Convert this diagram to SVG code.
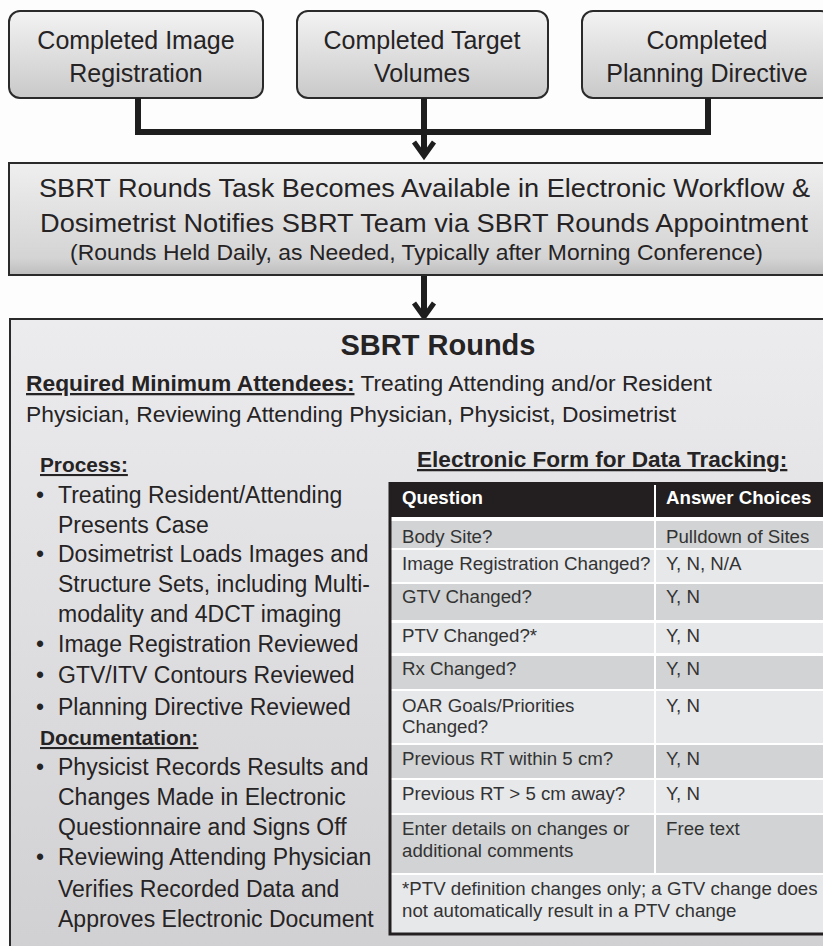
<svg xmlns="http://www.w3.org/2000/svg" width="823" height="946" viewBox="0 0 823 946">
<defs>
<linearGradient id="gTop" x1="0" y1="0" x2="0" y2="1"><stop offset="0" stop-color="#f3f3f3"/><stop offset="1" stop-color="#c9c9ca"/></linearGradient>
<linearGradient id="gMid" x1="0" y1="0" x2="0" y2="1"><stop offset="0" stop-color="#efeff0"/><stop offset="0.85" stop-color="#d4d4d5"/><stop offset="1" stop-color="#bdbdbe"/></linearGradient>
<linearGradient id="gBig" x1="0" y1="0" x2="0" y2="1"><stop offset="0" stop-color="#ececee"/><stop offset="1" stop-color="#d0d0d2"/></linearGradient>
<style>
text{font-family:"Liberation Sans",Arial,sans-serif;fill:#262324}
.box{stroke:#2a2a2a;stroke-width:2}
.t25{font-size:25px}
.t26{font-size:26px}
.b{font-weight:bold}
.u{text-decoration:underline}
.li{font-size:23px}
.td{font-size:18.7px;fill:#333}
.th{font-size:18.7px;font-weight:bold;fill:#fff}
.dk{fill:#d2d3d5}
.lt{fill:#e7e8ea}
.conn{fill:none;stroke:#1e1e1e;stroke-width:6}
.head{fill:none;stroke:#1e1e1e;stroke-width:5;stroke-linejoin:miter}
</style>
</defs>
<rect width="823" height="946" fill="#fdfdfd"/>

<g id="node-image-registration">
<rect class="box" x="9" y="11" width="254" height="87" rx="11" fill="url(#gTop)"/>
<text class="t25" x="136" y="49" text-anchor="middle">Completed Image</text>
<text class="t25" x="136" y="82" text-anchor="middle">Registration</text>
</g>
<g id="node-target-volumes">
<rect class="box" x="297" y="11" width="251" height="87" rx="11" fill="url(#gTop)"/>
<text class="t25" x="422" y="49" text-anchor="middle">Completed Target</text>
<text class="t25" x="422" y="82" text-anchor="middle">Volumes</text>
</g>
<g id="node-planning-directive">
<rect class="box" x="582" y="11" width="250" height="87" rx="11" fill="url(#gTop)"/>
<text class="t25" x="707" y="49" text-anchor="middle">Completed</text>
<text class="t25" x="707" y="82" text-anchor="middle">Planning Directive</text>
</g>

<g id="connectors">
<path class="conn" d="M138,98 V132 H708 V98"/>
<path class="conn" d="M424,98 V155"/>
<path class="head" d="M414,142 L424,156 L434,142"/>
<path class="conn" d="M424,275 V316"/>
<path class="head" d="M414,303 L424,317 L434,303"/>
</g>

<g id="node-task-available">
<rect class="box" x="9" y="163" width="840" height="112" fill="url(#gMid)"/>
<text class="t26" x="39" y="197" textLength="771" lengthAdjust="spacingAndGlyphs">SBRT Rounds Task Becomes Available in Electronic Workflow &amp;</text>
<text class="t26" x="40" y="232" textLength="768" lengthAdjust="spacingAndGlyphs">Dosimetrist Notifies SBRT Team via SBRT Rounds Appointment</text>
<text x="70" y="260" font-size="22.5" textLength="693" lengthAdjust="spacingAndGlyphs">(Rounds Held Daily, as Needed, Typically after Morning Conference)</text>
</g>

<g id="node-sbrt-rounds">
<rect class="box" x="10" y="319" width="840" height="640" fill="url(#gBig)"/>
<text class="b" x="438" y="355" font-size="29" text-anchor="middle">SBRT Rounds</text>
<text x="26" y="391" font-size="22.8"><tspan class="b u">Required Minimum Attendees:</tspan> Treating Attending and/or Resident</text>
<text x="26" y="422" font-size="22.8">Physician, Reviewing Attending Physician, Physicist, Dosimetrist</text>

<g id="process-list">
<text class="b u" x="40" y="472" font-size="20.8">Process:</text>
<text class="li" x="36" y="503">•</text><text class="li" x="58" y="503">Treating Resident/Attending</text>
<text class="li" x="58" y="533">Presents Case</text>
<text class="li" x="36" y="562">•</text><text class="li" x="58" y="562">Dosimetrist Loads Images and</text>
<text class="li" x="58" y="592">Structure Sets, including Multi-</text>
<text class="li" x="58" y="622">modality and 4DCT imaging</text>
<text class="li" x="36" y="652">•</text><text class="li" x="58" y="652">Image Registration Reviewed</text>
<text class="li" x="36" y="683">•</text><text class="li" x="58" y="683">GTV/ITV Contours Reviewed</text>
<text class="li" x="36" y="715">•</text><text class="li" x="58" y="715">Planning Directive Reviewed</text>
<text class="b u" x="40" y="745" font-size="20.8">Documentation:</text>
<text class="li" x="36" y="775">•</text><text class="li" x="58" y="775">Physicist Records Results and</text>
<text class="li" x="58" y="805">Changes Made in Electronic</text>
<text class="li" x="58" y="835">Questionnaire and Signs Off</text>
<text class="li" x="36" y="865">•</text><text class="li" x="58" y="865">Reviewing Attending Physician</text>
<text class="li" x="58" y="897">Verifies Recorded Data and</text>
<text class="li" x="58" y="927">Approves Electronic Document</text>
</g>

<g id="data-form">
<text class="b u" x="417" y="467" font-size="22.6">Electronic Form for Data Tracking:</text>
<rect x="389" y="482" width="450" height="453" fill="#ffffff"/>
<rect x="389" y="482" width="450" height="35" fill="#231f20"/>
<rect class="dk" x="391" y="521" width="450" height="27"/>
<rect class="lt" x="391" y="550" width="450" height="32"/>
<rect class="dk" x="391" y="584" width="450" height="36"/>
<rect class="lt" x="391" y="623" width="450" height="30"/>
<rect class="dk" x="391" y="656" width="450" height="33"/>
<rect class="lt" x="391" y="691" width="450" height="52"/>
<rect class="dk" x="391" y="745" width="450" height="33"/>
<rect class="lt" x="391" y="780" width="450" height="33"/>
<rect class="dk" x="391" y="815" width="450" height="58"/>
<rect class="lt" x="391" y="875" width="450" height="58"/>
<line x1="655" y1="485" x2="655" y2="873" stroke="#ffffff" stroke-width="2"/>
<path d="M390,482 V934 H840" fill="none" stroke="#231f20" stroke-width="3"/>
<text class="th" x="402" y="504">Question</text>
<text class="th" x="666" y="504">Answer Choices</text>
<text class="td" x="402" y="543">Body Site?</text><text class="td" x="666" y="543">Pulldown of Sites</text>
<text class="td" x="402" y="570">Image Registration Changed?</text><text class="td" x="666" y="570">Y, N, N/A</text>
<text class="td" x="402" y="603">GTV Changed?</text><text class="td" x="666" y="603">Y, N</text>
<text class="td" x="402" y="642">PTV Changed?*</text><text class="td" x="666" y="642">Y, N</text>
<text class="td" x="402" y="675">Rx Changed?</text><text class="td" x="666" y="675">Y, N</text>
<text class="td" x="402" y="712">OAR Goals/Priorities</text><text class="td" x="666" y="712">Y, N</text>
<text class="td" x="402" y="733">Changed?</text>
<text class="td" x="402" y="765">Previous RT within 5 cm?</text><text class="td" x="666" y="765">Y, N</text>
<text class="td" x="402" y="800">Previous RT &gt; 5 cm away?</text><text class="td" x="666" y="800">Y, N</text>
<text class="td" x="402" y="835">Enter details on changes or</text><text class="td" x="666" y="835">Free text</text>
<text class="td" x="402" y="857">additional comments</text>
<text class="td" x="402" y="895">*PTV definition changes only; a GTV change does</text>
<text class="td" x="402" y="917">not automatically result in a PTV change</text>
</g>
</g>
</svg>
